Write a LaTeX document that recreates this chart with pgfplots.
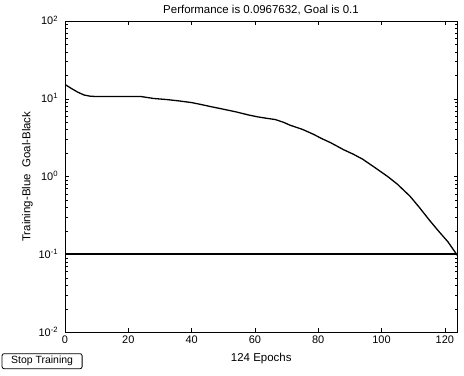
\documentclass[border=0pt]{standalone}
\usepackage{pgfplots}
\pgfplotsset{compat=1.18}
\usepackage{fontspec}
\setmainfont{Liberation Sans}
\pgfplotstableread{
ep perf
0 15.3
2 13.6
4 12.2
6 11.2
8 10.8
10 10.7
15 10.7
20 10.7
24 10.7
26 10.4
28 10.1
32 9.8
36 9.4
40 8.95
43 8.45
46 7.95
50 7.36
54 6.8
58 6.2
61 5.85
64 5.6
66.4 5.42
69 5.0
71 4.6
75 4.05
78.5 3.5
81 3.1
84 2.72
88 2.22
91 1.95
94 1.68
98 1.3
102 1.0
105 0.8
109 0.56
112 0.4
115 0.28
118 0.2
121 0.145
124 0.0967632
}\perftable
\pgfplotstableread{
ep goal
0 0.1
124 0.1
}\goaltable
\begin{document}
\begin{tikzpicture}
\useasboundingbox (0,0) rectangle (464bp,376bp);
\begin{axis}[
  at={(65bp,43.7bp)}, anchor=south west,
  scale only axis, width=392.5bp, height=311.3bp,
  xmin=0, xmax=124, ymode=log, ymin=0.01, ymax=100,
  xtick={0,20,40,60,80,100,120},
  ytick={0.01,0.1,1,10,100},
  yticklabels={10\textsuperscript{-2},10\textsuperscript{-1},10\textsuperscript{0},10\textsuperscript{1},10\textsuperscript{2}},
  yminorticks=true,
  tick align=inside, major tick length=4bp, minor tick length=2.5bp,
  axis line style={line width=0.8bp},
  every tick/.style={black, line width=0.6bp},
  /pgf/number format/assume math mode=true,
  tick label style={font=\fontsize{11}{13}\selectfont},
  xticklabel style={anchor=base, yshift=-11.5bp},
  yticklabel style={anchor=base east, yshift=-4bp, xshift=-3.4bp},
  xlabel={124 Epochs},
  xlabel style={at={(axis description cs:0.5,0)}, anchor=base, yshift=-28.7bp, font=\fontsize{11.5}{13}\selectfont},
  ylabel={Training-Blue\ \ Goal-Black},
  ylabel style={at={(axis description cs:-0.0879,0.5)}, anchor=base, font=\fontsize{11.5}{13}\selectfont},
]
\addplot[black, line width=2bp, no markers] table[x=ep, y=goal] {\goaltable};
\addplot[black, line width=1.3bp, no markers] table[x=ep, y=perf] {\perftable};
\end{axis}
\node[anchor=base, inner sep=0pt, font=\fontsize{11.5}{13}\selectfont] at (261bp,362.7bp) {Performance is 0.0967632, Goal is 0.1};
\node[draw, line width=0.8bp, rounded corners=2bp, minimum width=80bp, minimum height=15bp, anchor=north west, inner sep=0pt, font=\fontsize{10.5}{12}\selectfont] at (1.7bp,22.7bp) {Stop Training};
\end{tikzpicture}
\end{document}
